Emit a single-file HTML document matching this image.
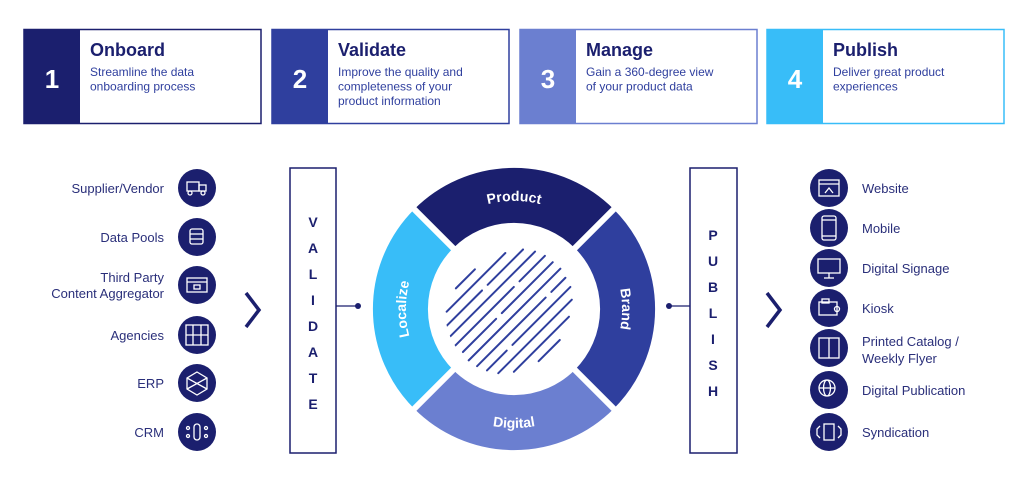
<!DOCTYPE html>
<html><head><meta charset="utf-8"><style>
html,body{margin:0;padding:0;background:#fff;width:1024px;height:490px;overflow:hidden}
svg{display:block;font-family:"Liberation Sans",sans-serif}
</style></head><body>
<svg width="1024" height="490" viewBox="0 0 1024 490" xmlns="http://www.w3.org/2000/svg">
<g>
<rect x="24" y="29.5" width="237" height="94" fill="#fff" stroke="#1b1f6e" stroke-width="1.5"/>
<rect x="24" y="29.5" width="56" height="94" fill="#1b1f6e"/>
<text x="52" y="88" fill="#fff" font-size="26" font-weight="bold" text-anchor="middle">1</text>
<text x="90" y="56" fill="#1b1f6e" font-size="18" font-weight="bold">Onboard</text>
<text fill="#2f3f9e" font-size="12"><tspan x="90" y="76">Streamline the data</tspan><tspan x="90" y="90.5">onboarding process</tspan></text>

<rect x="272" y="29.5" width="237" height="94" fill="#fff" stroke="#2f3f9e" stroke-width="1.5"/>
<rect x="272" y="29.5" width="56" height="94" fill="#2f3f9e"/>
<text x="300" y="88" fill="#fff" font-size="26" font-weight="bold" text-anchor="middle">2</text>
<text x="338" y="56" fill="#1b1f6e" font-size="18" font-weight="bold">Validate</text>
<text fill="#2f3f9e" font-size="12"><tspan x="338" y="76">Improve the quality and</tspan><tspan x="338" y="90.5">completeness of your</tspan><tspan x="338" y="105">product information</tspan></text>

<rect x="520" y="29.5" width="237" height="94" fill="#fff" stroke="#6b7fd0" stroke-width="1.5"/>
<rect x="520" y="29.5" width="56" height="94" fill="#6b7fd0"/>
<text x="548" y="88" fill="#fff" font-size="26" font-weight="bold" text-anchor="middle">3</text>
<text x="586" y="56" fill="#1b1f6e" font-size="18" font-weight="bold">Manage</text>
<text fill="#2f3f9e" font-size="12"><tspan x="586" y="76">Gain a 360-degree view</tspan><tspan x="586" y="90.5">of your product data</tspan></text>

<rect x="767" y="29.5" width="237" height="94" fill="#fff" stroke="#38bdf8" stroke-width="1.5"/>
<rect x="767" y="29.5" width="56" height="94" fill="#38bdf8"/>
<text x="795" y="88" fill="#fff" font-size="26" font-weight="bold" text-anchor="middle">4</text>
<text x="833" y="56" fill="#1b1f6e" font-size="18" font-weight="bold">Publish</text>
<text fill="#2f3f9e" font-size="12"><tspan x="833" y="76">Deliver great product</tspan><tspan x="833" y="90.5">experiences</tspan></text>
</g>

<g fill="#2a2f7a" font-size="13" text-anchor="end">
<text x="164" y="193">Supplier/Vendor</text>
<text x="164" y="242">Data Pools</text>
<text x="164" y="282">Third Party</text>
<text x="164" y="298">Content Aggregator</text>
<text x="164" y="340">Agencies</text>
<text x="164" y="388">ERP</text>
<text x="164" y="437">CRM</text>
</g>
<g fill="#1b1f6e">
<circle cx="197" cy="188" r="19"/><circle cx="197" cy="237" r="19"/><circle cx="197" cy="285" r="19"/>
<circle cx="197" cy="335" r="19"/><circle cx="197" cy="383" r="19"/><circle cx="197" cy="432" r="19"/>
</g>
<g fill="none" stroke="#fff" stroke-width="1.3">
<rect x="187" y="182" width="12" height="9"/><rect x="199" y="185" width="7" height="6"/><circle cx="190" cy="193" r="2"/><circle cx="203" cy="193" r="2"/>
<rect x="190" y="229" width="13" height="15" rx="2"/><line x1="190" y1="234" x2="203" y2="234"/><line x1="190" y1="239" x2="203" y2="239"/>
<rect x="187" y="278" width="20" height="14"/><line x1="187" y1="282" x2="207" y2="282"/><rect x="194" y="285" width="6" height="4"/>
<rect x="186" y="325" width="22" height="20"/><line x1="193" y1="325" x2="193" y2="345"/><line x1="201" y1="325" x2="201" y2="345"/><line x1="186" y1="335" x2="208" y2="335"/>
<polygon points="197,372 207,378 207,389 197,395 187,389 187,378"/><line x1="187" y1="378" x2="207" y2="389"/><line x1="207" y1="378" x2="187" y2="389"/>
<rect x="194" y="424" width="6" height="16" rx="3"/><circle cx="188" cy="428" r="1.5"/><circle cx="206" cy="428" r="1.5"/><circle cx="188" cy="436" r="1.5"/><circle cx="206" cy="436" r="1.5"/>
</g>

<polyline points="246,293 259,310 246,327" fill="none" stroke="#1b1f6e" stroke-width="3.5"/>
<polyline points="767,293 780,310 767,327" fill="none" stroke="#1b1f6e" stroke-width="3.5"/>

<rect x="290" y="168" width="46" height="285" fill="#fff" stroke="#1b1f6e" stroke-width="1.5"/>
<g fill="#1b1f6e" font-size="14" font-weight="bold" text-anchor="middle">
<text x="313" y="227">V</text><text x="313" y="253">A</text><text x="313" y="279">L</text><text x="313" y="305">I</text>
<text x="313" y="331">D</text><text x="313" y="357">A</text><text x="313" y="383">T</text><text x="313" y="409">E</text>
</g>
<line x1="336" y1="306" x2="357" y2="306" stroke="#1b1f6e" stroke-width="1.3"/>
<circle cx="358" cy="306" r="3" fill="#1b1f6e"/>

<rect x="690" y="168" width="47" height="285" fill="#fff" stroke="#1b1f6e" stroke-width="1.5"/>
<g fill="#1b1f6e" font-size="14" font-weight="bold" text-anchor="middle">
<text x="713" y="240">P</text><text x="713" y="266">U</text><text x="713" y="292">B</text><text x="713" y="318">L</text>
<text x="713" y="344">I</text><text x="713" y="370">S</text><text x="713" y="396">H</text>
</g>
<line x1="669" y1="306" x2="690" y2="306" stroke="#1b1f6e" stroke-width="1.3"/>
<circle cx="669" cy="306" r="3" fill="#1b1f6e"/>

<g fill="none" stroke-width="55">
<path d="M433.7,228.7 A113.5,113.5 0 0 1 594.3,228.7" stroke="#1b1f6e"/>
<path d="M594.3,228.7 A113.5,113.5 0 0 1 594.3,389.3" stroke="#2f3f9e"/>
<path d="M594.3,389.3 A113.5,113.5 0 0 1 433.7,389.3" stroke="#6b7fd0"/>
<path d="M433.7,389.3 A113.5,113.5 0 0 1 433.7,228.7" stroke="#38bdf8"/>
</g>
<g stroke="#fff" stroke-width="6">
<line x1="408" y1="203" x2="620" y2="415"/><line x1="620" y1="203" x2="408" y2="415"/>
</g>
<defs>
<path id="pTop" d="M437.6,232.6 A108,108 0 0 1 590.4,232.6"/>
<path id="pRight" d="M590.4,232.6 A108,108 0 0 1 590.4,385.4"/>
<path id="pLeft" d="M437.6,385.4 A108,108 0 0 1 437.6,232.6"/>
<path id="pBot" d="M429.9,393.1 A119,119 0 0 0 598.1,393.1"/>
<clipPath id="hc"><circle cx="511" cy="311" r="66"/></clipPath>
</defs>
<g fill="#fff" font-size="14" font-weight="bold">
<text><textPath href="#pTop" startOffset="50%" text-anchor="middle">Product</textPath></text>
<text><textPath href="#pRight" startOffset="50%" text-anchor="middle">Brand</textPath></text>
<text><textPath href="#pLeft" startOffset="50%" text-anchor="middle">Localize</textPath></text>
<text><textPath href="#pBot" startOffset="50%" text-anchor="middle">Digital</textPath></text>
</g>

<g clip-path="url(#hc)" transform="rotate(-45 511 311)" stroke="#2f3f9e" stroke-width="2" stroke-linecap="round">
<line x1="488" y1="256" x2="515" y2="256"/>
<line x1="465" y1="266" x2="548" y2="266"/>
<line x1="455" y1="276" x2="505" y2="276"/><line x1="513" y1="276" x2="563" y2="276"/>
<line x1="450" y1="286" x2="570" y2="286"/>
<line x1="447" y1="296" x2="530" y2="296"/><line x1="538" y1="296" x2="574" y2="296"/>
<line x1="448" y1="306" x2="495" y2="306"/><line x1="503" y1="306" x2="575" y2="306"/>
<line x1="446" y1="316" x2="576" y2="316"/>
<line x1="448" y1="326" x2="545" y2="326"/><line x1="553" y1="326" x2="573" y2="326"/>
<line x1="452" y1="336" x2="480" y2="336"/><line x1="488" y1="336" x2="570" y2="336"/>
<line x1="458" y1="346" x2="562" y2="346"/>
<line x1="470" y1="356" x2="548" y2="356"/>
<line x1="495" y1="366" x2="525" y2="366"/>
</g>

<g fill="#1b1f6e">
<circle cx="829" cy="188" r="19"/><circle cx="829" cy="228" r="19"/><circle cx="829" cy="268" r="19"/>
<circle cx="829" cy="308" r="19"/><circle cx="829" cy="348" r="19"/><circle cx="829" cy="390" r="19"/><circle cx="829" cy="432" r="19"/>
</g>
<g fill="none" stroke="#fff" stroke-width="1.3">
<rect x="819" y="180" width="20" height="16"/><line x1="819" y1="184" x2="839" y2="184"/><polyline points="825,193 829,188 833,193"/>
<rect x="822" y="216" width="14" height="24" rx="2"/><line x1="822" y1="220" x2="836" y2="220"/><line x1="822" y1="236" x2="836" y2="236"/>
<rect x="818" y="259" width="22" height="14"/><line x1="829" y1="273" x2="829" y2="278"/><line x1="824" y1="278" x2="834" y2="278"/>
<rect x="819" y="302" width="18" height="13"/><rect x="822" y="299" width="7" height="4"/><circle cx="837" cy="309" r="2.5"/>
<rect x="819" y="338" width="20" height="20"/><line x1="829" y1="338" x2="829" y2="358"/>
<circle cx="827" cy="388" r="8"/><line x1="819" y1="388" x2="835" y2="388"/><ellipse cx="827" cy="388" rx="3.5" ry="8"/>
<rect x="824" y="424" width="10" height="16"/><polyline points="820,426 817,429 817,435 820,438"/><polyline points="838,426 841,429 841,435 838,438"/>
</g>
<g fill="#2a2f7a" font-size="13">
<text x="862" y="193">Website</text>
<text x="862" y="233">Mobile</text>
<text x="862" y="273">Digital Signage</text>
<text x="862" y="313">Kiosk</text>
<text x="862" y="346">Printed Catalog /</text>
<text x="862" y="363">Weekly Flyer</text>
<text x="862" y="395">Digital Publication</text>
<text x="862" y="437">Syndication</text>
</g>
</svg>
</body></html>
